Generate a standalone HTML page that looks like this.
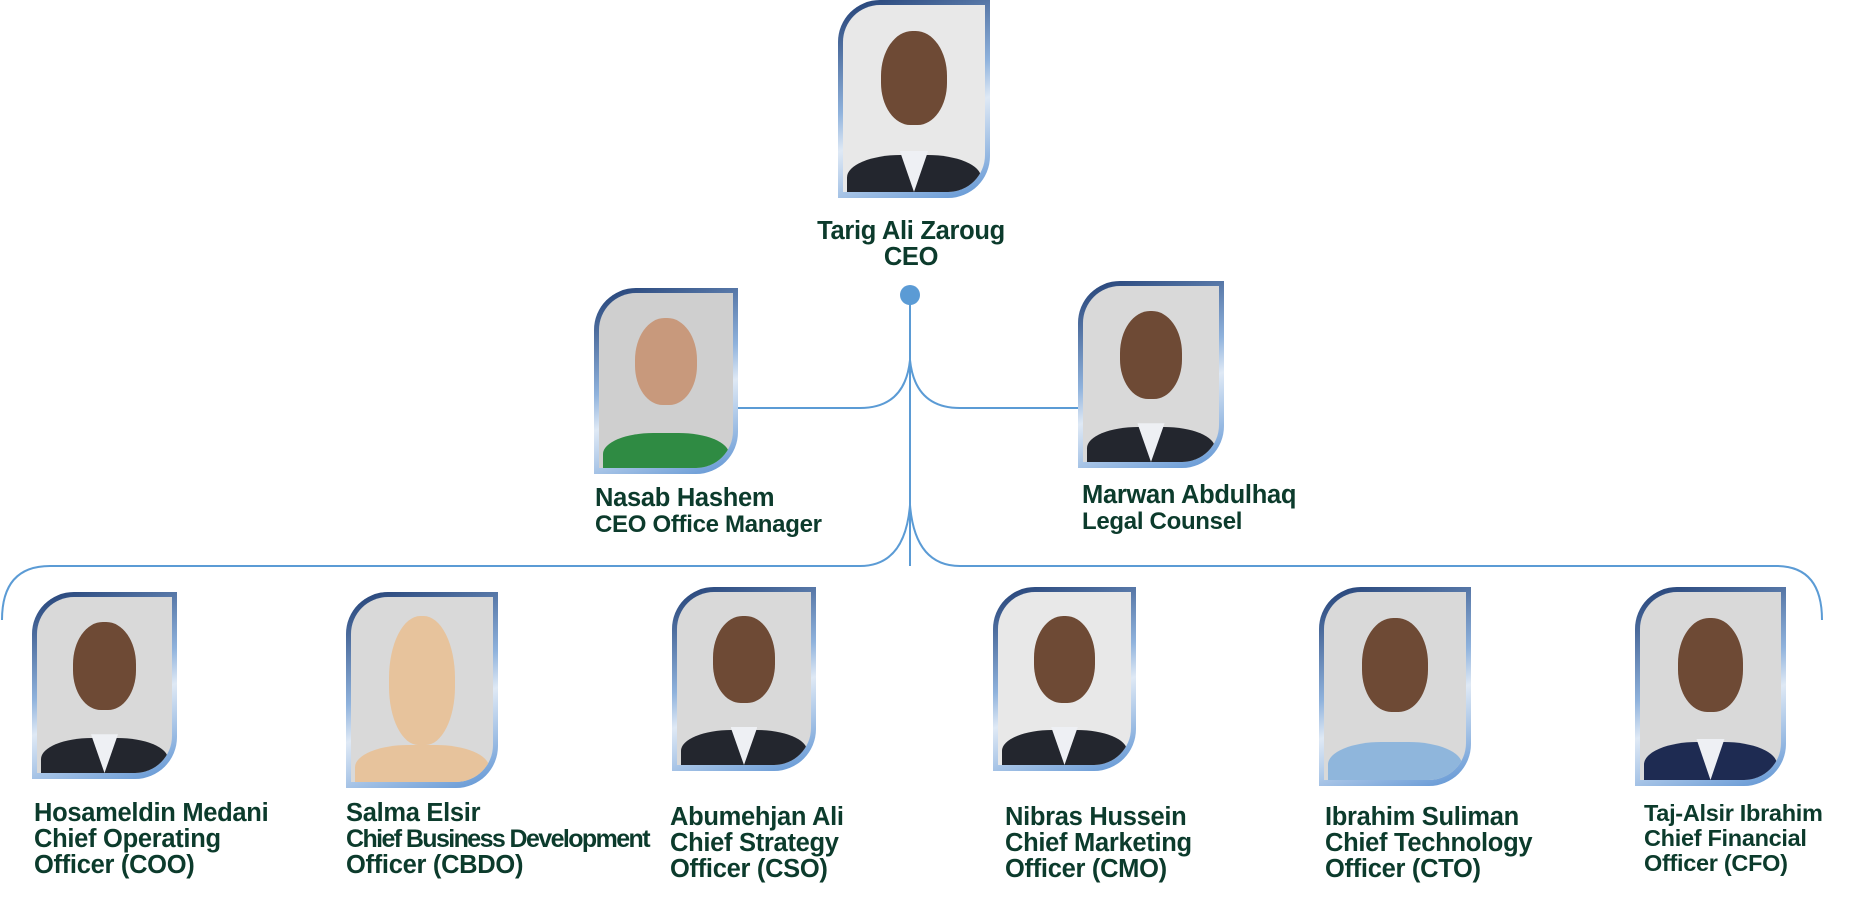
<!DOCTYPE html>
<html><head><meta charset="utf-8"><style>
body{margin:0;width:1854px;height:900px;background:#fff;position:relative;overflow:hidden;font-family:"Liberation Sans",sans-serif}
.ph{position:absolute;box-sizing:border-box;padding:5px 5px 6px 5px;border-radius:42px 0 42px 0;background:linear-gradient(160deg,#1f3d73 0%,#8fb2dc 45%,#dfe9f5 60%,#5d93d3 100%)}
.in{width:100%;height:100%;border-radius:37px 0 37px 0;background:#d9d9d9;position:relative;overflow:hidden}
.in .b{position:absolute;left:3%;right:3%;bottom:-10%;height:30%;background:#23262e;border-radius:40% 40% 0 0}
.in .s{position:absolute;left:40%;width:20%;bottom:0;height:22%;background:#eef0f4;clip-path:polygon(0 0,100% 0,50% 100%)}
.in .h{position:absolute;left:27%;width:46%;top:14%;height:50%;background:#6e4a35;border-radius:48% 48% 45% 45%}
.t{position:absolute;color:#0c3b2c;font-weight:bold;font-size:25.5px;line-height:26px;white-space:nowrap;letter-spacing:-0.3px}
</style></head><body>
<svg width="1854" height="900" style="position:absolute;left:0;top:0">
<g fill="none" stroke="#5b9bd5" stroke-width="2">
<line x1="910" y1="295" x2="910" y2="566"/>
<path d="M738 408 H860 Q905 408 910 360 Q915 408 960 408 H1078"/>
<path d="M2 620 Q2 566 50 566 H860 Q905 566 910 505 Q915 566 960 566 H1776 Q1822 566 1822 620"/>
</g>
<circle cx="910" cy="295" r="10" fill="#5b9bd5"/>
</svg>

<div class="ph" style="left:838px;top:0;width:152px;height:198px"><div class="in" style="background:#e8e8e8"><div class="h"></div><div class="b"></div><div class="s"></div></div></div>
<div class="ph" style="left:594px;top:288px;width:144px;height:186px"><div class="in" style="background:#cfcfcf"><div class="h" style="background:#c8997c"></div><div class="b" style="background:#2f8b43"></div></div></div>
<div class="ph" style="left:1078px;top:281px;width:146px;height:187px"><div class="in"><div class="h"></div><div class="b"></div><div class="s"></div></div></div>

<div class="ph" style="left:32px;top:592px;width:145px;height:187px"><div class="in"><div class="h"></div><div class="b"></div><div class="s"></div></div></div>
<div class="ph" style="left:346px;top:592px;width:152px;height:196px"><div class="in"><div class="h" style="background:#e7c39c;top:10%;height:70%"></div><div class="b" style="background:#e7c39c"></div></div></div>
<div class="ph" style="left:672px;top:587px;width:144px;height:184px"><div class="in"><div class="h"></div><div class="b"></div><div class="s"></div></div></div>
<div class="ph" style="left:993px;top:587px;width:143px;height:184px"><div class="in" style="background:#e8e8e8"><div class="h"></div><div class="b"></div><div class="s"></div></div></div>
<div class="ph" style="left:1319px;top:587px;width:152px;height:199px"><div class="in"><div class="h"></div><div class="b" style="background:#8fb6dc"></div></div></div>
<div class="ph" style="left:1635px;top:587px;width:151px;height:199px"><div class="in"><div class="h"></div><div class="b" style="background:#1e2b52"></div><div class="s"></div></div></div>

<div class="t" style="left:791px;top:218px;width:240px;text-align:center">Tarig Ali Zaroug<br>CEO</div>
<div class="t" style="left:595px;top:485px">Nasab Hashem<br><span style="font-size:24px">CEO Office Manager</span></div>
<div class="t" style="left:1082px;top:482px">Marwan Abdulhaq<br><span style="font-size:24px">Legal Counsel</span></div>

<div class="t" style="left:34px;top:800px">Hosameldin Medani<br>Chief Operating<br>Officer (COO)</div>
<div class="t" style="left:346px;top:800px">Salma Elsir<br><span style="letter-spacing:-1.6px;font-size:25px">Chief Business Development</span><br>Officer (CBDO)</div>
<div class="t" style="left:670px;top:804px">Abumehjan Ali<br>Chief Strategy<br>Officer (CSO)</div>
<div class="t" style="left:1005px;top:804px">Nibras Hussein<br>Chief Marketing<br>Officer (CMO)</div>
<div class="t" style="left:1325px;top:804px">Ibrahim Suliman<br>Chief Technology<br>Officer (CTO)</div>
<div class="t" style="left:1644px;top:801px;font-size:23.5px;line-height:25px">Taj-Alsir Ibrahim<br>Chief Financial<br>Officer (CFO)</div>
</body></html>
